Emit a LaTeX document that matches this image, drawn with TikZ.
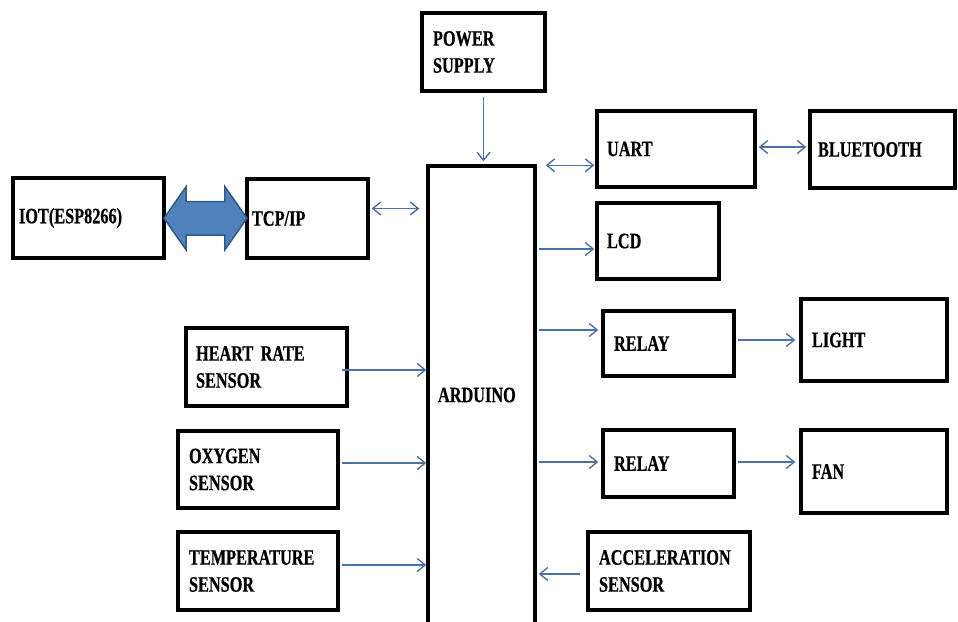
\documentclass[tikz,border=0pt]{standalone}
\usepackage{fontspec}
\newfontfamily\blkfont{Liberation Serif}[FakeStretch=0.74,FakeBold=0.6]
\usepackage{tikz}
\usetikzlibrary{arrows.meta,shapes.arrows,calc}
\definecolor{wireblue}{HTML}{4A72A8}
\definecolor{arrowfill}{HTML}{4F81BD}
\definecolor{arrowedge}{HTML}{2F5A8C}

\begin{document}
\begin{tikzpicture}[
  x=1pt, y=-1pt,
  >={Straight Barb[length=8pt,width=13pt]},
  blk/.style={draw, line width=3.4pt, align=left, inner xsep=10pt, inner ysep=0pt,
    font=\blkfont\bfseries\fontsize{22}{27}\selectfont},
  conn/.style={->, line width=1.4pt, wireblue},
  bidir/.style={<->, line width=1.4pt, wireblue},
  bigarrow/.style={double arrow, draw=arrowedge, fill=arrowfill, line width=1.5pt,
    inner sep=0pt, inner ysep=16pt, minimum height=83pt,
    double arrow head extend=15pt, double arrow tip angle=110},
]
\useasboundingbox (0,0) rectangle (958,621);

% ---- centre: controller and its supply ----
\node[blk, inner xsep=11pt, text width=101pt, minimum height=78pt] (power) at (483.5,52) {POWER\\SUPPLY};
\node[blk, text width=87pt, minimum height=458pt] (ard) at (481.5,395) {ARDUINO};

% ---- left: network side and sensors ----
\node[blk, inner xsep=6pt, text width=139pt, minimum height=80pt] (iot) at (88.5,218) {IOT(ESP8266)};
\node[blk, inner xsep=5pt, text width=111pt, minimum height=79pt] (tcp) at (307.5,218.5) {TCP/IP};
\node[bigarrow] (iolink) at ($(iot.east)!0.5!(tcp.west)$) {};
\node[blk, text width=141pt, minimum height=78pt] (heart) at (266.5,367) {HEART RATE\\SENSOR};
\node[blk, inner xsep=11pt, text width=138pt, minimum height=77pt] (oxy) at (258,469.5) {OXYGEN\\SENSOR};
\node[blk, inner xsep=11pt, text width=138pt, minimum height=78pt] (temp) at (258,571) {TEMPERATURE\\SENSOR};

% ---- right: outputs ----
\node[blk, text width=138pt, minimum height=76pt] (uart) at (676,149) {UART};
\node[blk, inner xsep=8pt, text width=129pt, minimum height=77pt] (bt) at (882.5,149.5) {BLUETOOTH};
\node[blk, text width=102pt, minimum height=76pt] (lcd) at (658,241) {LCD};
\node[blk, inner xsep=11pt, text width=109pt, minimum height=65pt] (relay1) at (668.5,343.5) {RELAY};
\node[blk, inner xsep=11pt, text width=124pt, minimum height=82pt] (light) at (874,340) {LIGHT};
\node[blk, inner xsep=11pt, text width=109pt, minimum height=67pt] (relay2) at (668.5,463.5) {RELAY};
\node[blk, inner xsep=11pt, text width=124pt, minimum height=83pt] (fan) at (874,471.5) {FAN};
\node[blk, inner xsep=11pt, text width=140pt, minimum height=78pt] (accel) at (669,571) {ACCELERATION\\SENSOR};

% ---- connectors ----
\draw[conn] ([yshift=-4pt]power.south) -- ([yshift=3pt]power.south |- ard.north);
\draw[bidir] ([xshift=2pt,yshift=10pt]tcp.east) coordinate (t1) -- ([xshift=-7pt]t1 -| ard.west);
\draw[conn] ([xshift=-7pt,yshift=-3pt]heart.east) coordinate (h1) -- (h1 -| ard.west);
\draw[conn] ([xshift=2pt,yshift=6.5pt]oxy.east) coordinate (o1) -- (o1 -| ard.west);
\draw[conn] ([xshift=2pt,yshift=6pt]temp.east) coordinate (m1) -- (m1 -| ard.west);

\draw[bidir] ([xshift=9pt,yshift=-1pt]ard.north east) coordinate (u1) -- ([xshift=-1pt]u1 -| uart.west);
\draw[bidir] ([xshift=2pt,yshift=2pt]uart.east) coordinate (u2) -- ([xshift=-2pt]u2 -| bt.west);
\draw[conn] ([xshift=2pt,yshift=-8pt]lcd.west -| ard.east) -- ([xshift=-1pt,yshift=-8pt]lcd.west);
\draw[conn] ([xshift=2pt,yshift=13.5pt]relay1.west -| ard.east) -- ([xshift=-3pt,yshift=13.5pt]relay1.west);
\draw[conn] ([xshift=2pt,yshift=3.5pt]relay1.east) coordinate (r1) -- ([xshift=-4pt]r1 -| light.west);
\draw[conn] ([xshift=2pt,yshift=1.5pt]relay2.west -| ard.east) -- ([xshift=-3pt,yshift=1.5pt]relay2.west);
\draw[conn] ([xshift=2pt,yshift=1.5pt]relay2.east) coordinate (r2) -- ([xshift=-4pt]r2 -| fan.west);
\draw[conn] ([xshift=-6pt,yshift=-3pt]accel.west) coordinate (a1) -- ([xshift=2pt]a1 -| ard.east);
\end{tikzpicture}
\end{document}
